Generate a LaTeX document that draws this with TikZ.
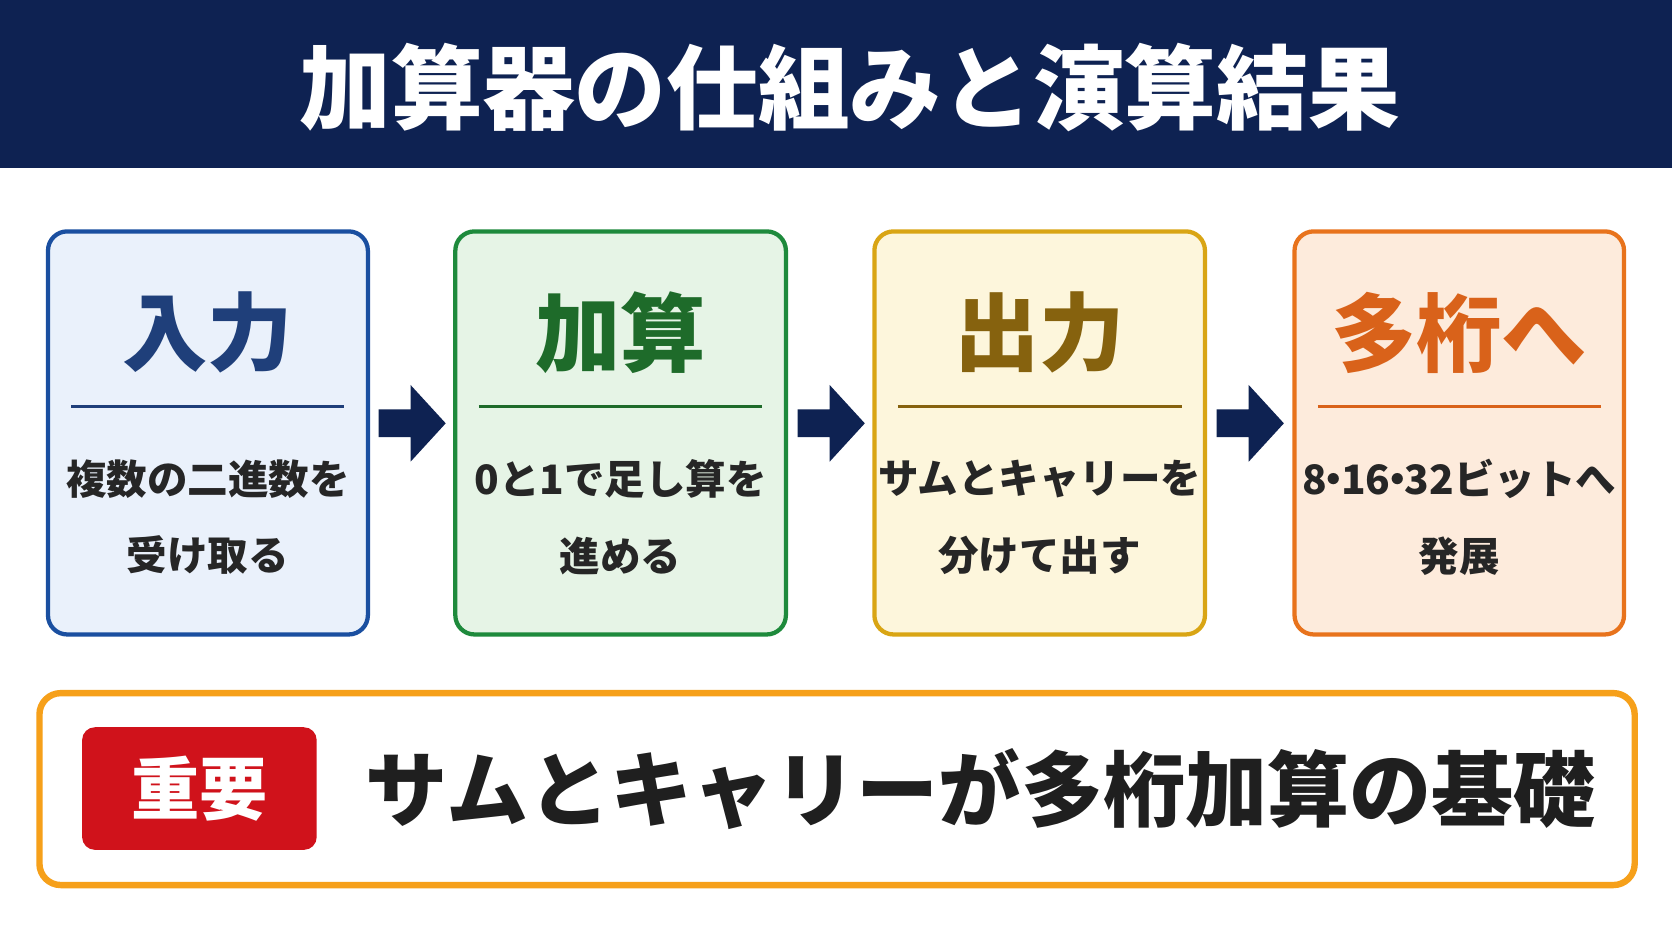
\documentclass[tikz,border=0pt]{standalone}
\usepackage{fontspec}
\setmainfont{Noto Sans CJK JP}
\newcommand{\ndot}{\makebox[0.35em]{・}}
\begin{document}
\begin{tikzpicture}[x=0.5pt,y=-0.5pt,
  box/.style={draw,line width=2pt,rounded corners=9pt},
  head/.style={font=\bfseries\fontsize{40}{44}\selectfont},
  body/.style={font=\bfseries\fontsize{19}{36}\selectfont,text=black!85,align=center},
  arr/.style={fill=navy,draw=none}]
\definecolor{navy}{HTML}{0E2252}
\useasboundingbox (0,0) rectangle (1568,882);
\fill[white] (0,0) rectangle (1568,882);
\fill[navy] (0,0) rectangle (1568,158);
\node[text=white,font=\bfseries\fontsize{43}{46}\selectfont] (title) at (797,82) {加算器の仕組みと演算結果};
\foreach \i/\xa/\xb/\bc/\fc/\hc/\htext/\btext in {
 1/45/345/1A4FA0/EAF1FB/1F3F7A/入力/{複数の二進数を\\受け取る},
 2/427/737/1E8A3C/E6F4E6/1E6B2A/加算/{0と1で足し算を\\進める},
 3/820/1130/D9A514/FDF6DC/86620E/出力/{サムとキャリーを\\分けて出す},
 4/1214/1523/E8731C/FDEBDC/D9621A/多桁へ/{8\ndot16\ndot32ビットへ\\発展}}{
  \definecolor{bc\i}{HTML}{\bc}\definecolor{fc\i}{HTML}{\fc}\definecolor{hc\i}{HTML}{\hc}
  \draw[box,draw=bc\i,fill=fc\i] (\xa,217) rectangle (\xb,595);
  \node[head,text=hc\i] (h\i) at ({(\xa+\xb)/2},312) {\htext};
  \draw[line width=1.5pt,draw=hc\i] (\xa+22,381) -- (\xb-22,381);
  \node[body] (b\i) at ({(\xa+\xb)/2},485) {\btext};
}
\foreach \x in {355,748,1141}{
  \fill[navy] (\x,384) -- (\x+30,384) -- (\x+30,361) -- (\x+63,397) -- (\x+30,433) -- (\x+30,410) -- (\x,410) -- cycle;
}
\definecolor{org}{HTML}{F6A01A}
\draw[line width=3pt,draw=org,rounded corners=10pt,fill=white] (37,650) rectangle (1533,830);
\fill[fill={rgb,255:red,208;green,18;blue,27},rounded corners=6pt] (77,682) rectangle (297,797);
\node[text=white,font=\bfseries\fontsize{32}{34}\selectfont] (tag) at (187,740) {重要};
\node[anchor=west,font=\bfseries\fontsize{38.5}{40}\selectfont,text=black!88] (msg) at (336,740) {サムとキャリーが多桁加算の基礎};
\end{tikzpicture}
\end{document}
